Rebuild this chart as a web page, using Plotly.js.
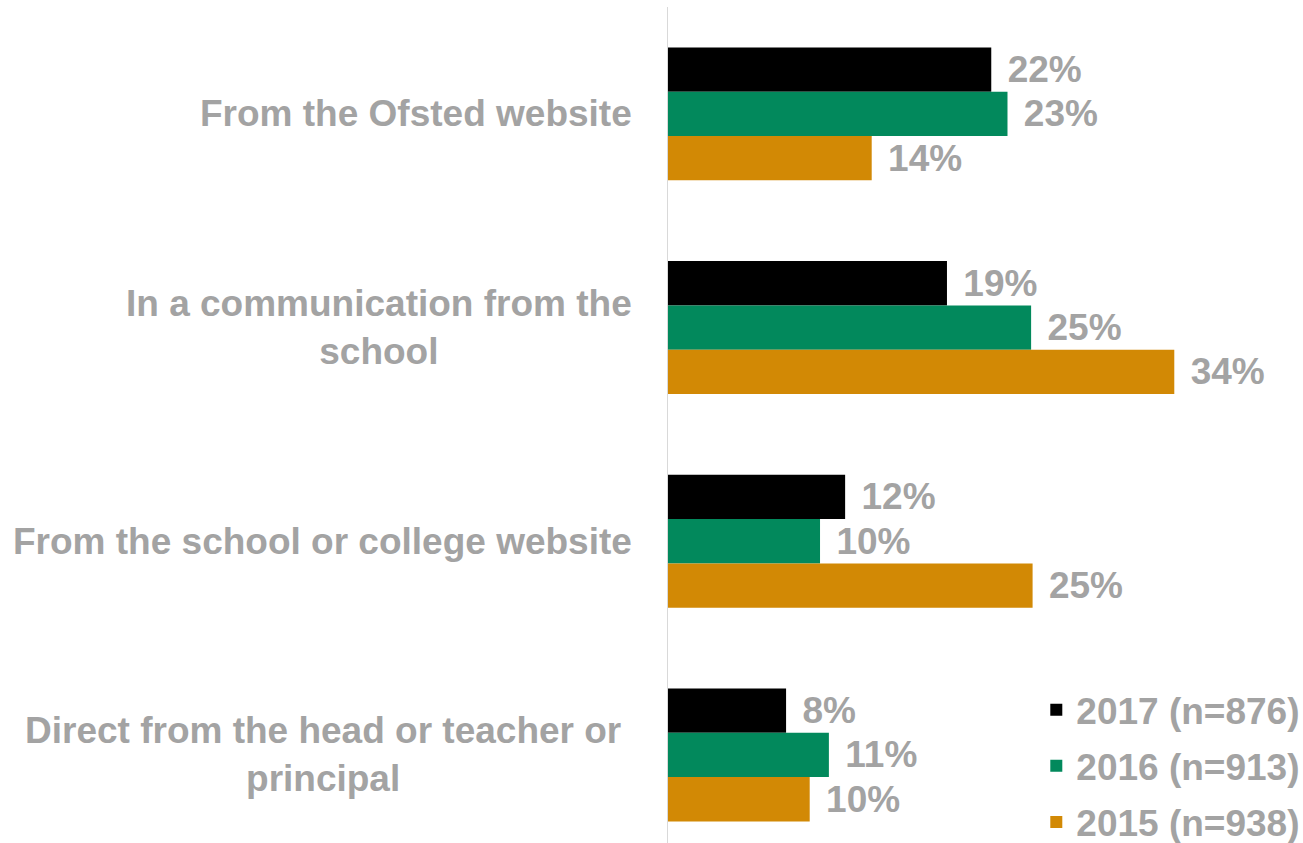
<!DOCTYPE html>
<html>
<head>
<meta charset="utf-8">
<script src="https://cdn.plot.ly/plotly-3.0.1.min.js"></script>
<style>html,body{margin:0;padding:0;background:#fff;}#chart{width:1303px;height:843px;}</style>
</head>
<body>
<div id="chart"></div>
<script>
// Categories (top to bottom) and display labels
const categories = [
  "From the Ofsted website",
  "In a communication from the school",
  "From the school or college website",
  "Direct from the head or teacher or principal"
];
const categoryLabels = [
  "From the Ofsted website",
  "In a communication from the<br>school",
  "From the school or college website",
  "Direct from the head or teacher or&nbsp;<br>principal&nbsp;"
];
// Series names
const seriesNames = ["2017 (n=876)", "2016 (n=913)", "2015 (n=938)"];
// Values (%)
const values2017 = [21.9, 18.9, 12.0, 8.0];
const values2016 = [23.0, 24.6, 10.3, 10.9];
const values2015 = [13.8, 34.3, 24.7, 9.6];
const seriesValues = [values2017, values2016, values2015];
const seriesColors = ["#000000", "#02895C", "#D28905"];

const gray = "#A3A3A3";
const fontFamily = "Liberation Sans, Arial, sans-serif";

const traces = seriesNames.map((name, i) => ({
  type: "bar",
  orientation: "h",
  name: name,
  y: categories,
  x: seriesValues[i],
  marker: {color: seriesColors[i], line: {width: 0}},
  texttemplate: "\u00a0\u200a%{x:.0f}%",
  textposition: "outside",
  constraintext: "none",
  cliponaxis: false,
  textfont: {family: fontFamily, size: 37, color: gray, weight: 700},
  hoverinfo: "skip",
  legendgroup: "g" + i
}));

const annotations = categories.map((c, i) => ({
  xref: "paper", yref: "y",
  x: 0, y: c,
  xshift: -34,
  xanchor: "right", yanchor: "middle",
  align: "center",
  showarrow: false,
  text: categoryLabels[i],
  font: {family: fontFamily, size: 37, color: gray, weight: 700}
}));

const layout = {
  width: 1303, height: 843,
  margin: {l: 668, r: 0, t: 7, b: 0, pad: 0, autoexpand: false},
  paper_bgcolor: "#ffffff",
  plot_bgcolor: "#ffffff",
  barmode: "group",
  bargap: 0.378,
  bargroupgap: 0,
  showlegend: true,
  legend: {
    x: 0.58, y: 0.196, xanchor: "left", yanchor: "top",
    font: {family: fontFamily, size: 37, color: gray, weight: 700},
    tracegroupgap: 5,
    bgcolor: "rgba(0,0,0,0)"
  },
  xaxis: {
    range: [0, 43.02],
    visible: false,
    showgrid: false, zeroline: false
  },
  yaxis: {
    type: "category",
    range: [3.412, -0.5],
    showticklabels: false,
    ticks: "",
    showgrid: false,
    zeroline: false,
    showline: true,
    linecolor: "#D9D9D9",
    linewidth: 1.5
  },
  annotations: annotations,
  font: {family: fontFamily}
};

Plotly.newPlot("chart", traces, layout, {displayModeBar: false, staticPlot: true});
</script>
</body>
</html>
